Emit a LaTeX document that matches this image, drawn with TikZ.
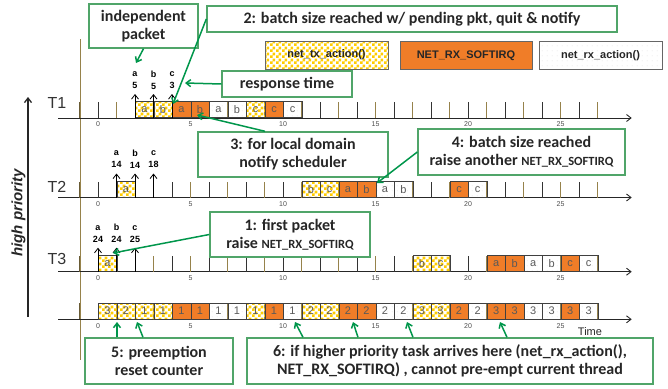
\documentclass[tikz,border=0pt]{standalone}
\usepackage{fontspec}
\setmainfont{Liberation Sans}
\newfontfamily\calfont{Carlito}
\usetikzlibrary{arrows.meta,patterns}

\definecolor{rxorange}{RGB}{240,125,40}
\definecolor{txyellow}{RGB}{255,204,0}
\definecolor{boxgreen}{RGB}{80,165,105}
\definecolor{arrgreen}{RGB}{0,150,75}
\definecolor{tickolive}{RGB}{150,130,75}

% checkerboard with 3pt squares and sparse dots
\pgfdeclarepatternformonly{checks}{\pgfpointorigin}{\pgfqpoint{6pt}{6pt}}{\pgfqpoint{6pt}{6pt}}{%
  \pgfpathrectangle{\pgfpointorigin}{\pgfqpoint{3pt}{3pt}}%
  \pgfpathrectangle{\pgfqpoint{3pt}{3pt}}{\pgfqpoint{3pt}{3pt}}%
  \pgfusepath{fill}}
\pgfdeclarepatternformonly{rxdots}{\pgfpointorigin}{\pgfqpoint{5pt}{5pt}}{\pgfqpoint{5pt}{5pt}}{%
  \pgfpathcircle{\pgfqpoint{2.5pt}{2.5pt}}{0.35pt}%
  \pgfusepath{fill}}

\newcommand{\smallcal}{\fontsize{12.5}{18}\selectfont}
% one time axis with its ticks and numbers
\newcommand{\timeaxis}{%
  \draw[axisline] (-2.16,0) -- (28.85,0);
  \draw[tickolive!70!black,line width=1.4pt] (-1,0) -- (-1,-16);
  \foreach \t in {1,3,...,27} \draw[tickolive,line width=1pt] (\t,0) -- (\t,-16);
  \foreach \t in {0,2,...,26} \draw[black!80,line width=0.8pt] (\t,0) -- (\t,-16);
  \foreach \t in {0,5,...,25} \node[ticknum] at (\t,6.5) {\t};}

\begin{document}
\begin{tikzpicture}[x=1pt,y=-1pt,>={Straight Barb[length=4.5pt,width=7pt]}]

  \tikzstyle{slot}=[draw=black!75,line width=0.6pt,minimum width=18.5pt,minimum height=16pt,inner sep=0pt,anchor=south west,text=black!65,font=\fontsize{11}{12}\selectfont]
  \tikzstyle{tx}=[slot,pattern=checks,pattern color=txyellow]
  \tikzstyle{sirq}=[slot,fill=rxorange]
  \tikzstyle{rx}=[slot,pattern=rxdots,pattern color=black!30]
  \tikzstyle{axisline}=[->,black!85,line width=0.9pt]
  \tikzstyle{ticknum}=[font=\fontsize{7}{8}\selectfont,text=black!70,inner sep=0pt]
  \tikzstyle{arrival}=[->,black,line width=0.8pt]
  \tikzstyle{arrlabel}=[font=\bfseries\fontsize{9}{12}\selectfont,align=center,inner sep=0pt]
  \tikzstyle{callout}=[draw=boxgreen,line width=1.4pt,fill=white,inner sep=0pt,align=center,font=\calfont\bfseries\fontsize{16}{18}\selectfont,text=black!85]
  \tikzstyle{callarrow}=[->,arrgreen,line width=1.5pt]
  \tikzstyle{keybox}=[anchor=center,minimum height=28pt,draw=black!60,text=black!85,font=\bfseries\fontsize{11}{12}\selectfont]

  \useasboundingbox (0,0) rectangle (668,388);

  % priority arrow and separator
  \coordinate (prio-low) at (28,317);
  \coordinate (prio-high) at (28,97);
  \draw[->,black!85,line width=1.3pt] (prio-low) -- (prio-high);
  \node[rotate=90,font=\bfseries\itshape\fontsize{15}{16}\selectfont,text=black!85] (prio) at (18.5,213) {high priority};
  \draw[tickolive,line width=1.5pt] (80.5,39) -- (80.5,360);

  \node[font=\fontsize{16}{18}\selectfont,text=black!80] (t1) at (57,103) {T1};
  \node[font=\fontsize{16}{18}\selectfont,text=black!80] (t2) at (57,187) {T2};
  \node[font=\fontsize{16}{18}\selectfont,text=black!80] (t3) at (57,259) {T3};

  % T1
  \begin{scope}[shift={(98,118)},x=18.5pt]
    \timeaxis
    \foreach \t/\k/\l in {2/tx/a,3/tx/b,4/sirq/a,5/sirq/b,6/rx/a,7/rx/b,8/tx/c,9/sirq/c,10/rx/c}
      \node[\k] (r1-\t) at (\t,0) {\l};
    \foreach \t/\p/\r in {2/a/5,3/b/5,4/c/3} {
      \draw[arrival] (\t,0) -- (\t,-24);
      \node[arrlabel] (r1-in\t) at (\t,-38) {\p\\\r};}
  \end{scope}

  % T2
  \begin{scope}[shift={(98,197.5)},x=18.5pt]
    \timeaxis
    \foreach \t/\k/\l in {1/tx/a,11/tx/b,12/tx/c,13/sirq/a,14/sirq/b,15/rx/a,16/rx/b,19/sirq/c,20/rx/c}
      \node[\k] (r2-\t) at (\t,0) {\l};
    \foreach \t/\p/\r in {1/a/14,2/b/14,3/c/18} {
      \draw[arrival] (\t,0) -- (\t,-24);
      \node[arrlabel] (r2-in\t) at (\t,-38) {\p\\\r};}
  \end{scope}

  % T3
  \begin{scope}[shift={(98,271.7)},x=18.5pt]
    \timeaxis
    \foreach \t/\k/\l in {0/tx/a,17/tx/b,18/tx/c,21/sirq/a,22/sirq/b,23/rx/a,24/rx/b,25/sirq/c,26/rx/c}
      \node[\k] (r3-\t) at (\t,0) {\l};
    \foreach \t/\p/\r in {0/a/24,1/b/24,2/c/25} {
      \draw[arrival] (\t,0) -- (\t,-24);
      \node[arrlabel] (r3-in\t) at (\t,-38) {\p\\\r};}
  \end{scope}

  % batch counter row
  \begin{scope}[shift={(98,319.3)},x=18.5pt]
    \timeaxis
    \foreach \t/\k/\l in {0/tx/3,1/tx/2,2/tx/1,3/tx/1,4/sirq/1,5/sirq/1,6/rx/1,7/rx/1,8/tx/1,9/sirq/1,10/rx/1,11/tx/2,12/tx/2,13/sirq/2,14/sirq/2,15/rx/2,16/rx/2,17/tx/3,18/tx/3,19/sirq/2,20/rx/2,21/sirq/3,22/sirq/3,23/rx/3,24/rx/3,25/sirq/3,26/rx/3}
      \node[\k] (r4-\t) at (\t,0) {\l};
  \end{scope}
  \node[font=\fontsize{11}{12}\selectfont,text=black!85] (time) at (590,332) {Time};

  % legend
  \node[tx,keybox,minimum width=123pt] (key-tx) at (326.5,55) {net\_tx\_action()};
  \node[sirq,keybox,minimum width=132pt] (key-sirq) at (466,55.5) {NET\_RX\_SOFTIRQ};
  \node[rx,keybox,minimum width=123pt] (key-rx) at (600.5,55.5) {net\_rx\_action()};

  % callouts
  \node[callout,minimum width=109pt,minimum height=44pt] (indep) at (143.5,26) {independent\\packet};
  \node[callout,minimum width=410pt,minimum height=26pt] (quit) at (412,19) {2: batch size reached w/ pending pkt, quit \& notify};
  \node[callout,minimum width=130pt,minimum height=26pt] (resp) at (287,84) {response time};
  \node[callout,minimum width=190pt,minimum height=45pt] (local) at (293,154.5) {3: for local domain\\notify scheduler};
  \node[callout,minimum width=207pt,minimum height=46pt] (raise) at (521.5,152) {4: batch size reached\\raise another {\smallcal NET\_RX\_SOFTIRQ}};
  \node[callout,minimum width=160pt,minimum height=45pt] (first) at (290,234.5) {1: first packet\\raise {\smallcal NET\_RX\_SOFTIRQ}};
  \node[callout,minimum width=148pt,minimum height=46pt] (preempt) at (159,361) {5: preemption\\reset counter};
  \node[callout,minimum width=406pt,minimum height=46pt] (higher) at (450,361) {6: if higher priority task arrives here (net\_rx\_action(),\\NET\_RX\_SOFTIRQ) , cannot pre-empt current thread};

  \coordinate (indep-tip) at (136,63);
  \coordinate (quit-tip) at (173,104);
  \coordinate (resp-tip) at (185,83);
  \coordinate (local-tip) at (197,115);
  \coordinate (raise-tip) at (377,183);
  \coordinate (first-tip) at (113,253);
  \coordinate (pre-tip1) at (117,322);
  \coordinate (pre-tip2) at (137,322);
  \coordinate (hi-tip1) at (295,322);
  \coordinate (hi-tip2) at (353,322);
  \coordinate (hi-tip3) at (407,322);
  \coordinate (hi-tip4) at (500,322);

  \draw[callarrow] (indep.south) -- (indep-tip);
  \draw[callarrow] (quit.west) -- (quit-tip);
  \draw[callarrow] (resp.west) -- (resp-tip);
  \draw[callarrow] ([xshift=-28pt]local.north) -- (local-tip);
  \draw[callarrow] (raise.west) -- (raise-tip);
  \draw[callarrow] (first.west) -- (first-tip);
  \draw[callarrow] ([xshift=-42pt]preempt.north) -- (pre-tip1);
  \draw[callarrow] ([xshift=-16pt]preempt.north) -- (pre-tip2);
  \draw[callarrow] ([xshift=-147pt]higher.north) -- (hi-tip1);
  \draw[callarrow] ([xshift=-92pt]higher.north) -- (hi-tip2);
  \draw[callarrow] ([xshift=-37pt]higher.north) -- (hi-tip3);
  \draw[callarrow] ([xshift=57pt]higher.north) -- (hi-tip4);

\end{tikzpicture}
\end{document}
